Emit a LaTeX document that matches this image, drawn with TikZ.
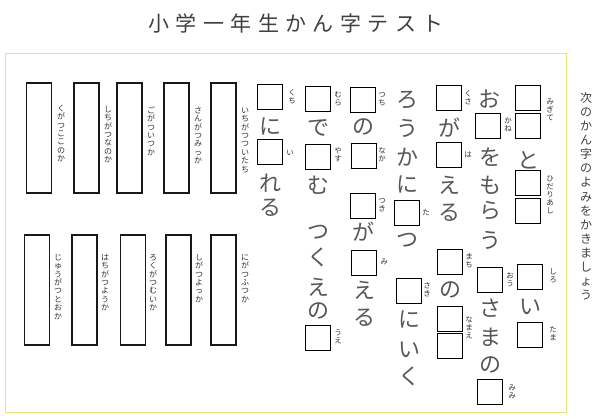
\documentclass[tikz,border=0pt]{standalone}
\usepackage{fontspec}
\newfontfamily\cjk{Noto Sans CJK JP}
\makeatletter
\newcommand\vt[2][1.05]{\vbox{\offinterlineskip\@tfor\vtc:=#2\do{\hbox to 1em{\hss\vrule width 0pt height .88em depth \dimexpr#1em-.88em\relax\vtc\hss}}}}
\makeatother
\definecolor{frameyellow}{RGB}{236,226,120}
\tikzset{
  kbox/.style={draw=black, line width=0.9pt, minimum size=25.5pt, inner sep=0pt},
  big/.style={font=\cjk\fontsize{22}{22}\selectfont, text=black!66, inner sep=0pt},
  ruby/.style={font=\cjk\fontsize{7.5}{7.5}\selectfont, text=black!80, inner sep=0pt},
  lab/.style={font=\cjk\fontsize{8}{8}\selectfont, text=black!80, inner sep=0pt, anchor=north},
  lrect/.style={draw=black!90, line width=1.5pt, minimum width=25pt, minimum height=110pt, inner sep=0pt},
  titlestyle/.style={font=\cjk\fontsize{21}{21}\selectfont, text=black!75, inner sep=0pt},
  instr/.style={font=\cjk\fontsize{12}{12}\selectfont, text=black!75, inner sep=0pt, anchor=north},
}
\begin{document}
\begin{tikzpicture}[x=1pt,y=-1pt]
\useasboundingbox (0,0) rectangle (602,419);
\fill[white] (0,0) rectangle (602,419);
% title
\node[titlestyle] (title) at (296,23) {小\kern6.5pt 学\kern6.5pt 一\kern6.5pt 年\kern6.5pt 生\kern6.5pt か\kern6.5pt ん\kern6.5pt 字\kern6.5pt テ\kern6.5pt ス\kern6.5pt ト};
% frame
\draw[frameyellow, line width=1pt] (5,54) rectangle (566,412);
% instruction
\node[instr] (ins) at (586,92) {\vt[1.17]{次のかん字のよみをかきましょう}};

% ---- column 1
\node[kbox] (b1a) at (528,98) {};
\node[kbox] (b1b) at (528,126) {};
\node[big] (c1a) at (528,160) {と};
\node[kbox] (b1c) at (528,183) {};
\node[kbox] (b1d) at (528,211) {};
\node[ruby] (r1a) at (550,110) {\vt{みぎて}};
\node[ruby] (r1b) at (550,195) {\vt{ひだりあし}};
\node[kbox] (b1e) at (530,277) {};
\node[big] (c1b) at (530,307) {い};
\node[kbox] (b1f) at (530,335) {};
\node[ruby] (r1c) at (553,276) {\vt{しろ}};
\node[ruby] (r1d) at (553,334) {\vt{たま}};

% ---- column 2
\node[big] (c2a) at (489,99) {お};
\node[kbox] (b2a) at (488,126) {};
\node[ruby] (r2a) at (508,125) {\vt{かね}};
\node[big] (c2b) at (490,157) {を};
\node[big] (c2c) at (490,185) {も};
\node[big] (c2d) at (490,211) {ら};
\node[big] (c2e) at (490,240) {う};
\node[kbox] (b2b) at (490,280) {};
\node[ruby] (r2b) at (510,280) {\vt{おう}};
\node[big] (c2f) at (490,308) {さ};
\node[big] (c2g) at (490,337) {ま};
\node[big] (c2h) at (490,365) {の};
\node[kbox] (b2c) at (490,392) {};
\node[ruby] (r2c) at (512,392) {\vt{みみ}};

% ---- column 3
\node[kbox] (b3a) at (449,98) {};
\node[ruby] (r3a) at (468,98) {\vt{くさ}};
\node[big] (c3a) at (449,128) {が};
\node[kbox] (b3b) at (449,155) {};
\node[ruby] (r3b) at (468,155) {\vt{は}};
\node[big] (c3b) at (449,185) {え};
\node[big] (c3c) at (449,213) {る};
\node[kbox] (b3c) at (450,262) {};
\node[ruby] (r3c) at (469,261) {\vt{まち}};
\node[big] (c3d) at (450,290) {の};
\node[kbox] (b3d) at (450,319) {};
\node[kbox] (b3e) at (450,346) {};
\node[ruby] (r3d) at (469,328) {\vt{なまえ}};

% ---- column 4
\node[big] (c4a) at (407,100) {ろ};
\node[big] (c4b) at (407,128) {う};
\node[big] (c4c) at (407,157) {か};
\node[big] (c4d) at (407,185) {に};
\node[kbox] (b4a) at (407,213) {};
\node[ruby] (r4a) at (426,213) {\vt{た}};
\node[big] (c4e) at (407,240) {つ};
\node[kbox] (b4b) at (409,291) {};
\node[ruby] (r4b) at (427,290) {\vt{さき}};
\node[big] (c4f) at (409,320) {に};
\node[big] (c4g) at (409,350) {い};
\node[big] (c4h) at (409,376) {く};

% ---- column 5
\node[kbox] (b5a) at (363,100) {};
\node[ruby] (r5a) at (382,99) {\vt{つち}};
\node[big] (c5a) at (363,127) {の};
\node[kbox] (b5b) at (364,156) {};
\node[ruby] (r5b) at (382,155) {\vt{なか}};
\node[kbox] (b5c) at (363,206) {};
\node[ruby] (r5c) at (382,205) {\vt{つき}};
\node[big] (c5b) at (363,232) {が};
\node[kbox] (b5d) at (364,263) {};
\node[ruby] (r5d) at (384,262) {\vt{み}};
\node[big] (c5c) at (364,290) {え};
\node[big] (c5d) at (364,318) {る};

% ---- column 6
\node[kbox] (b6a) at (318,99) {};
\node[ruby] (r6a) at (338,99) {\vt{むら}};
\node[big] (c6a) at (318,128) {で};
\node[kbox] (b6b) at (318,157) {};
\node[ruby] (r6b) at (338,155) {\vt{やす}};
\node[big] (c6b) at (318,185) {む};
\node[big] (c6c) at (318,232) {つ};
\node[big] (c6d) at (318,257) {く};
\node[big] (c6e) at (318,287) {え};
\node[big] (c6f) at (318,311) {の};
\node[kbox] (b6c) at (318,338) {};
\node[ruby] (r6c) at (338,337) {\vt{うえ}};

% ---- column 7
\node[kbox] (b7a) at (270,97) {};
\node[ruby] (r7a) at (292,97) {\vt{くち}};
\node[big] (c7a) at (270,127) {に};
\node[kbox] (b7b) at (270,152) {};
\node[ruby] (r7b) at (290,153) {\vt{い}};
\node[big] (c7b) at (270,183) {れ};
\node[big] (c7c) at (270,208) {る};

% ---- left rectangles, top row
\node[lrect] (L1) at (39,138) {};
\node[lrect] (L2) at (86.5,138) {};
\node[lrect] (L3) at (129.5,138) {};
\node[lrect] (L4) at (176.5,138) {};
\node[lrect] (L5) at (223.5,138) {};
\node[lab] (l1) at (61,104) {\vt{くがつここのか}};
\node[lab] (l2) at (108,105) {\vt{しちがつなのか}};
\node[lab] (l3) at (151,106) {\vt{ごがついつか}};
\node[lab] (l4) at (198,106) {\vt{さんがつみっか}};
\node[lab] (l5) at (245,106) {\vt{いちがつついたち}};
% ---- bottom row
\node[lrect] (L6) at (37,290) {};
\node[lrect] (L7) at (84.5,290) {};
\node[lrect] (L8) at (133,290) {};
\node[lrect] (L9) at (178.5,290) {};
\node[lrect] (L10) at (223.5,290) {};
\node[lab] (l6) at (58,253) {\vt{じゅうがつとおか}};
\node[lab] (l7) at (105,253) {\vt{はちがつようか}};
\node[lab] (l8) at (153,253) {\vt{ろくがつむいか}};
\node[lab] (l9) at (199,253) {\vt{しがつよっか}};
\node[lab] (l10) at (245,253) {\vt{にがつふつか}};
\end{tikzpicture}
\end{document}
